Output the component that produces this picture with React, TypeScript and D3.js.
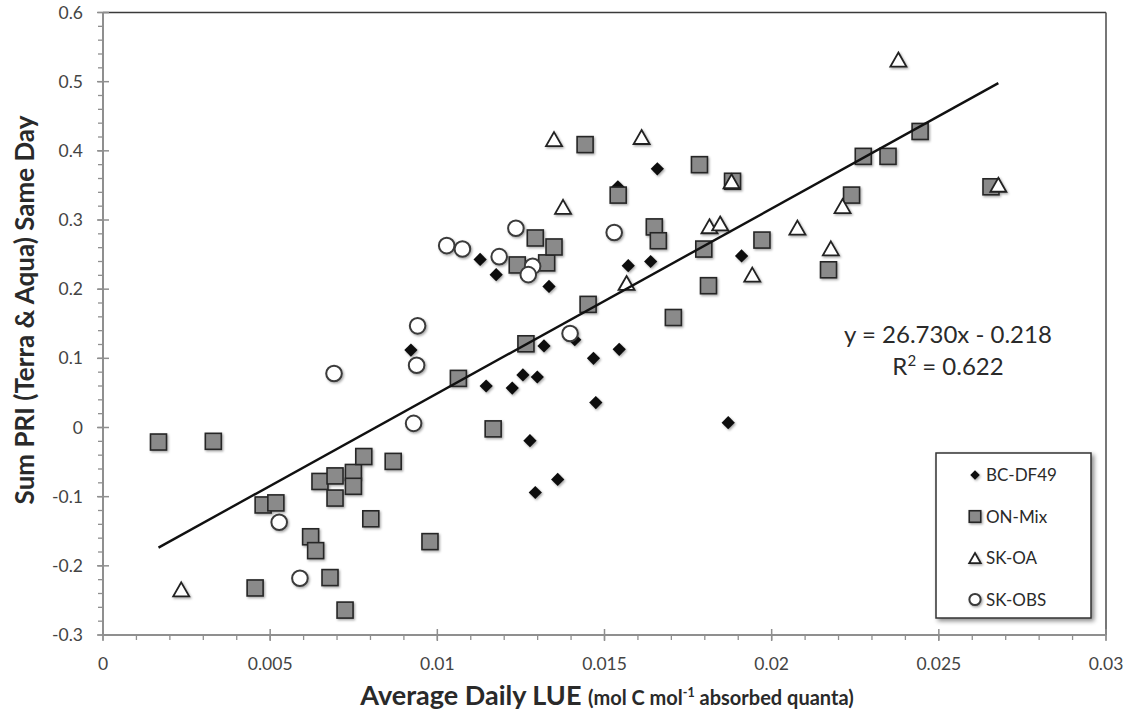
import React from 'react';
import * as d3 from 'd3';

// Axis tick labels
const xTickLabels = ['0', '0.005', '0.01', '0.015', '0.02', '0.025', '0.03'];
const yTickLabels = ['-0.3', '-0.2', '-0.1', '0', '0.1', '0.2', '0.3', '0.4', '0.5', '0.6'];

// Site series: [average daily LUE, summed PRI]
const bcDf49: [number, number][] = [
  [0.00921, 0.112], [0.01128, 0.243], [0.01176, 0.221], [0.01334, 0.204],
  [0.01146, 0.060], [0.01224, 0.057], [0.01256, 0.076], [0.01299, 0.073],
  [0.01319, 0.118], [0.01411, 0.127], [0.01467, 0.100], [0.01544, 0.113],
  [0.01474, 0.036], [0.01277, -0.019], [0.0136, -0.075], [0.01293, -0.094],
  [0.0187, 0.007], [0.01571, 0.234], [0.01638, 0.240], [0.01658, 0.374],
  [0.0191, 0.248], [0.0154, 0.348],
];

const onMix: [number, number][] = [
  [0.00166, -0.021], [0.0033, -0.020], [0.00479, -0.112], [0.00517, -0.109],
  [0.00455, -0.232], [0.00621, -0.158], [0.00636, -0.178], [0.00649, -0.078],
  [0.00694, -0.070], [0.00694, -0.102], [0.00749, -0.065], [0.00749, -0.085],
  [0.0078, -0.042], [0.00868, -0.049], [0.00801, -0.132], [0.00679, -0.217],
  [0.00724, -0.264], [0.00978, -0.165], [0.01167, -0.002], [0.01063, 0.071],
  [0.01265, 0.121], [0.01451, 0.178], [0.01706, 0.159], [0.01239, 0.235],
  [0.01327, 0.238], [0.01293, 0.274], [0.01349, 0.261], [0.01442, 0.409],
  [0.01541, 0.336], [0.01649, 0.290], [0.01661, 0.270], [0.01784, 0.380],
  [0.01797, 0.258], [0.01811, 0.205], [0.01883, 0.356], [0.01971, 0.271],
  [0.0217, 0.228], [0.02239, 0.336], [0.02274, 0.392], [0.02348, 0.392],
  [0.02444, 0.428], [0.02656, 0.348],
];

const skOa: [number, number][] = [
  [0.00234, -0.234], [0.01349, 0.417], [0.01611, 0.420], [0.01376, 0.319],
  [0.01566, 0.209], [0.01814, 0.291], [0.01846, 0.295], [0.0188, 0.356],
  [0.01942, 0.221], [0.02077, 0.289], [0.02177, 0.259], [0.02212, 0.320],
  [0.02379, 0.532], [0.02678, 0.351],
];

const skObs: [number, number][] = [
  [0.00527, -0.137], [0.00589, -0.218], [0.00691, 0.078], [0.00941, 0.147],
  [0.00938, 0.090], [0.00929, 0.006], [0.01028, 0.263], [0.01075, 0.258],
  [0.01185, 0.247], [0.01235, 0.288], [0.01285, 0.233], [0.01272, 0.221],
  [0.01529, 0.282], [0.01397, 0.136],
];

const seriesNames = ['BC-DF49', 'ON-Mix', 'SK-OA', 'SK-OBS'];

// Least-squares fit reported on the chart
const slope = 26.73;
const intercept = -0.218;
const rSquared = 0.622;

const FONT = 'Lato, "Open Sans", sans-serif';
const INK = '#2a2a2a';
const AXIS_GREY = '#8f8f8f';

const PLOT = { left: 103, right: 1106, top: 12.5, bottom: 635 };

type Kind = 'diamond' | 'square' | 'triangle' | 'circle';

function Marker({ kind, cx, cy, s = 1 }: { kind: Kind; cx: number; cy: number; s?: number }) {
  if (kind === 'diamond') {
    const r = 6.6 * s;
    return (
      <path d={`M${cx},${cy - r}L${cx + r},${cy}L${cx},${cy + r}L${cx - r},${cy}Z`} fill="#0a0a0a" />
    );
  }
  if (kind === 'square') {
    const h = 8 * s;
    return (
      <rect x={cx - h} y={cy - h} width={2 * h} height={2 * h} fill="#8a8a8a" stroke="#262626" strokeWidth={1.6} />
    );
  }
  if (kind === 'triangle') {
    const hw = 8 * s;
    const hh = 7 * s;
    return (
      <path
        d={`M${cx},${cy - hh}L${cx + hw},${cy + hh}L${cx - hw},${cy + hh}Z`}
        fill="#fff"
        stroke="#222"
        strokeWidth={1.8}
        strokeLinejoin="miter"
      />
    );
  }
  return <circle cx={cx} cy={cy} r={7.8 * s} fill="#fff" stroke="#3a3a3a" strokeWidth={2} />;
}

export default function App() {
  const x = d3.scaleLinear().domain([0, 0.03]).range([PLOT.left, PLOT.right]);
  const y = d3.scaleLinear().domain([-0.3, 0.6]).range([PLOT.bottom, PLOT.top]);

  const xMajor = xTickLabels.map((t) => +t);
  const yMajor = yTickLabels.map((t) => +t);
  const xMinor = d3.range(0, 31).map((i) => i * 0.001);
  const yMinor = d3.range(0, 46).map((i) => -0.3 + i * 0.02);

  const all = [...bcDf49, ...onMix, ...skOa, ...skObs];
  const [xLo, xHi] = d3.extent(all, (d) => d[0]) as [number, number];
  const fit = d3
    .line<number>()
    .x((v) => x(v))
    .y((v) => y(slope * v + intercept));

  const series: { kind: Kind; data: [number, number][] }[] = [
    { kind: 'diamond', data: bcDf49 },
    { kind: 'square', data: onMix },
    { kind: 'triangle', data: skOa },
    { kind: 'circle', data: skObs },
  ];
  const legendKinds: Kind[] = ['diamond', 'square', 'triangle', 'circle'];

  return (
    <svg
      width={1130}
      height={713}
      viewBox="0 0 1130 713"
      style={{ position: 'absolute', left: 0, top: 0, background: '#fff' }}
      fontFamily={FONT}
    >
      <defs>
        <filter id="mk-shadow" x="-60%" y="-60%" width="220%" height="220%">
          <feDropShadow dx="1.2" dy="1.4" stdDeviation="1.3" floodColor="#000" floodOpacity="0.35" />
        </filter>
        <filter id="box-shadow" x="-10%" y="-10%" width="125%" height="125%">
          <feDropShadow dx="2.5" dy="2.5" stdDeviation="2" floodColor="#000" floodOpacity="0.45" />
        </filter>
      </defs>

      <rect x={0} y={0} width={1130} height={713} fill="#fff" />

      {/* plot frame */}
      <line x1={PLOT.left} x2={PLOT.right} y1={PLOT.top} y2={PLOT.top} stroke="#3a3a3a" strokeWidth={1.6} />
      <line x1={PLOT.right} x2={PLOT.right} y1={PLOT.top} y2={PLOT.bottom} stroke="#555" strokeWidth={1.6} />

      {/* y axis */}
      <line x1={PLOT.left} x2={PLOT.left} y1={PLOT.top} y2={PLOT.bottom} stroke={AXIS_GREY} strokeWidth={2} />
      {yMinor.map((v, i) => (
        <line key={`ym${i}`} x1={PLOT.left - 5} x2={PLOT.left} y1={y(v)} y2={y(v)} stroke={AXIS_GREY} strokeWidth={1.3} />
      ))}
      {yMajor.map((v, i) => (
        <g key={`yM${i}`}>
          <line x1={PLOT.left - 6} x2={PLOT.left + 6} y1={y(v)} y2={y(v)} stroke={AXIS_GREY} strokeWidth={1.5} />
          <text x={83} y={y(v) + 6} textAnchor="end" fontSize={17.5} fill="#444">
            {yTickLabels[i]}
          </text>
        </g>
      ))}

      {/* x axis */}
      <line x1={PLOT.left} x2={PLOT.right} y1={PLOT.bottom} y2={PLOT.bottom} stroke={AXIS_GREY} strokeWidth={2} />
      {xMinor.map((v, i) => (
        <line key={`xm${i}`} x1={x(v)} x2={x(v)} y1={PLOT.bottom} y2={PLOT.bottom + 5} stroke={AXIS_GREY} strokeWidth={1.3} />
      ))}
      {xMajor.map((v, i) => (
        <g key={`xM${i}`}>
          <line x1={x(v)} x2={x(v)} y1={PLOT.bottom - 6} y2={PLOT.bottom + 6} stroke={AXIS_GREY} strokeWidth={1.5} />
          <text x={x(v)} y={670} textAnchor="middle" fontSize={17.5} fill="#444">
            {xTickLabels[i]}
          </text>
        </g>
      ))}

      {/* axis titles */}
      <text transform="translate(34,310) rotate(-90)" textAnchor="middle" fontSize={26} fontWeight={700} fill={INK}>
        Sum PRI (Terra &amp; Aqua) Same Day
      </text>
      <text x={607} y={705} textAnchor="middle" fill={INK} fontWeight={700}>
        <tspan fontSize={27}>Average Daily LUE </tspan>
        <tspan fontSize={20}>(mol C mol</tspan>
        <tspan fontSize={12.5} dy={-8}>-1</tspan>
        <tspan fontSize={20} dy={8}> absorbed quanta)</tspan>
      </text>

      {/* observations */}
      <g filter="url(#mk-shadow)">
        {series.map((s) =>
          s.data.map((d, i) => <Marker key={`${s.kind}${i}`} kind={s.kind} cx={x(d[0])} cy={y(d[1])} />)
        )}
      </g>

      {/* regression line */}
      <path d={fit([xLo, xHi]) ?? ''} stroke="#111" strokeWidth={2.4} fill="none" />

      {/* fit equation */}
      <text x={948} y={343} textAnchor="middle" fontSize={24} fill={INK}>
        {`y = ${slope.toFixed(3)}x - ${Math.abs(intercept).toFixed(3)}`}
      </text>
      <text x={948} y={375} textAnchor="middle" fontSize={24} fill={INK}>
        R<tspan fontSize={15} dy={-9}>2</tspan>
        <tspan dy={9}>{` = ${rSquared.toFixed(3)}`}</tspan>
      </text>

      {/* legend */}
      <rect x={936} y={453} width={155} height={165} fill="#fff" stroke="#333" strokeWidth={1.5} filter="url(#box-shadow)" />
      {seriesNames.map((name, i) => {
        const cy = 475 + i * 41.5;
        return (
          <g key={name}>
            <g filter="url(#mk-shadow)">
              <Marker kind={legendKinds[i]} cx={975} cy={cy} s={0.72} />
            </g>
            <text x={986} y={cy + 6} fontSize={17} fill={INK}>
              {name}
            </text>
          </g>
        );
      })}
    </svg>
  );
}
